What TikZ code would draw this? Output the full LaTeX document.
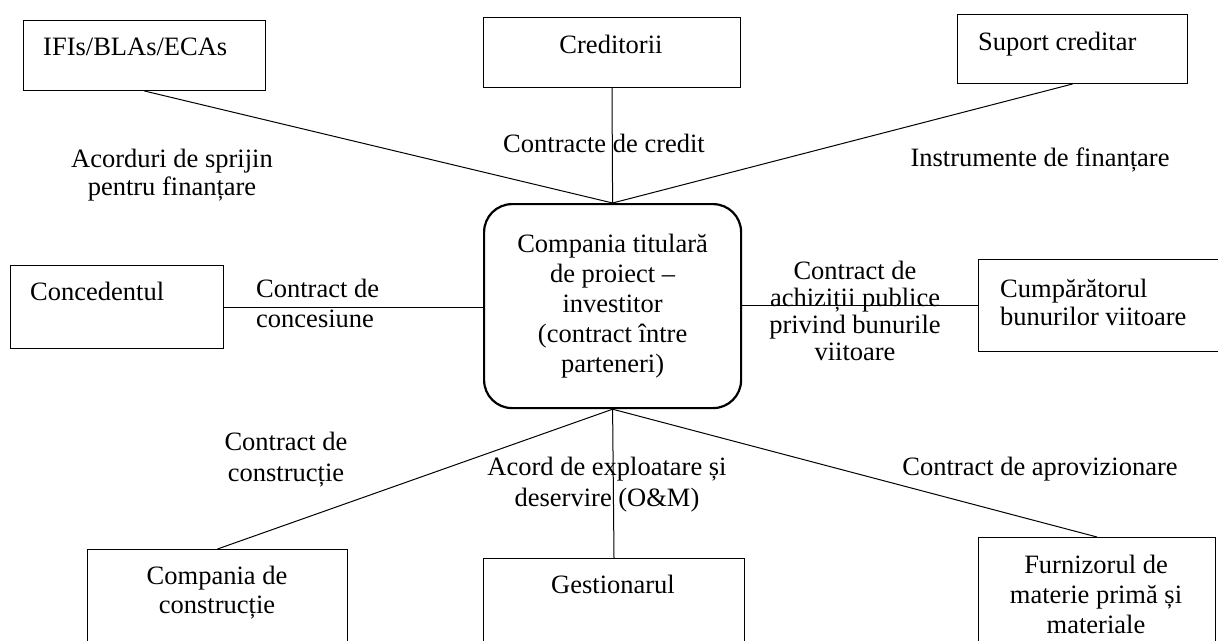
\documentclass[tikz,border=0pt]{standalone}
\usepackage{fontspec}
\setmainfont{Liberation Serif}
\begin{document}
\begin{tikzpicture}[x=1pt,y=-1pt,
  box/.style={draw,line width=1pt,inner sep=0pt,anchor=north west},
  lab/.style={inner sep=0pt,font=\fontsize{26.5pt}{#1}\selectfont},
  lab/.default=30pt,
  hub/.style={draw,line width=2.2pt,rounded corners=28pt,inner sep=0pt,anchor=north west,align=center},
  conn/.style={line width=1pt}]
\clip (0,0) rectangle (1218,640);
% boxes
\node[box,minimum width=242pt,minimum height=70pt] (ifi) at (23,20) {};
\node[box,minimum width=257pt,minimum height=70pt] (cred) at (483,17) {};
\node[box,minimum width=230pt,minimum height=69pt] (sup) at (957,14) {};
\node[box,minimum width=213pt,minimum height=83pt] (conc) at (10,265) {};
\node[box,minimum width=250pt,minimum height=92pt] (cump) at (978,259) {};
\node[box,minimum width=260pt,minimum height=120pt] (constr) at (87,549) {};
\node[box,minimum width=261pt,minimum height=120pt] (gest) at (483,558) {};
\node[box,minimum width=237pt,minimum height=120pt] (furn) at (978,537) {};
\node[hub,lab,minimum width=257pt,minimum height=204pt] (hub) at (483,203)
  {Compania titulară\\de proiect –\\investitor\\(contract între\\parteneri)};
% box texts
\node[lab,anchor=base west] (ifi-t) at (43,55) {IFIs/BLAs/ECAs};
\node[lab,anchor=base] (cred-t) at (611,53) {Creditorii};
\node[lab,anchor=base west] (sup-t) at (978,50) {Suport creditar};
\node[lab,anchor=base west] (conc-t) at (30,300) {Concedentul};
\node[lab=28pt,anchor=north west,align=left] (cump-t) at (1000,277) {\rule{0pt}{20pt}Cumpărătorul\\bunurilor viitoare};
\node[lab=29pt,anchor=north,align=center] (constr-t) at (217,564) {\rule{0pt}{20pt}Compania de\\construcție};
\node[lab,anchor=base] (gest-t) at (613,593) {Gestionarul};
\node[lab,anchor=north,align=center] (furn-t) at (1096,553) {\rule{0pt}{20pt}Furnizorul de\\materie primă și\\materiale};
% connector labels
\node[lab=28pt,anchor=north,align=center] (l-ifi) at (172,147) {\rule{0pt}{20pt}Acorduri de sprijin\\pentru finanțare};
\node[lab,anchor=base] (l-cred) at (604,152) {Contracte de credit};
\node[lab,anchor=base] (l-sup) at (1040,166) {Instrumente de finanțare};
\node[lab,anchor=north west,align=left] (l-conc) at (256,277) {\rule{0pt}{20pt}Contract de\\concesiune};
\node[lab=27pt,anchor=north,align=center] (l-cump) at (855,259) {\rule{0pt}{20pt}Contract de\\achiziții publice\\privind bunurile\\viitoare};
\node[lab=31pt,anchor=north,align=center] (l-constr) at (286,430) {\rule{0pt}{20pt}Contract de\\construcție};
\node[lab=31pt,anchor=north,align=center] (l-gest) at (607,455) {\rule{0pt}{20pt}Acord de exploatare și\\deservire (O\&M)};
\node[lab,anchor=base] (l-furn) at (1040,475) {Contract de aprovizionare};
% connectors
\draw[conn] (ifi.south) -- (hub.north);
\draw[conn] (cred.south) -- (hub.north);
\draw[conn] (sup.south) -- (hub.north);
\draw[conn] (conc.east) -- (conc.east -| hub.west);
\draw[conn] (hub.east |- cump.west) -- (cump.west);
\draw[conn] (hub.south) -- (constr.north);
\draw[conn] (hub.south) -- (gest.north);
\draw[conn] (hub.south) -- (furn.north);
\end{tikzpicture}
\end{document}
